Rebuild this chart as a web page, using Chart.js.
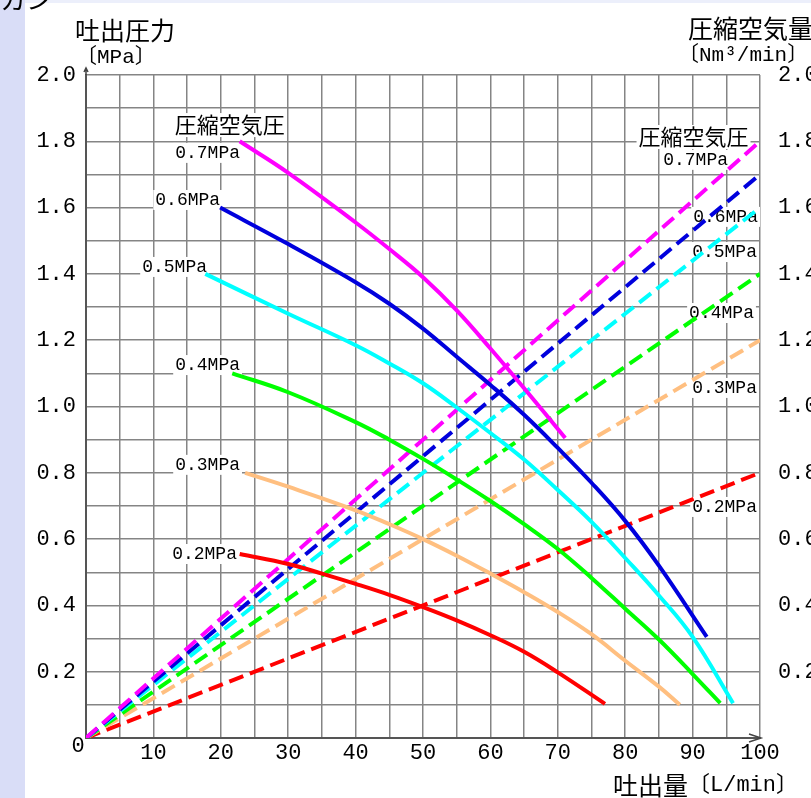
<!DOCTYPE html>
<html><head><meta charset="utf-8">
<script src="https://cdn.jsdelivr.net/npm/chart.js@4"></script>
<style>
html,body{margin:0;padding:0;background:#fff;}
#wrap{position:relative;width:811px;height:798px;overflow:hidden;}
#side{position:absolute;left:0;top:0;width:25px;height:798px;background:#d9ddf7;}
#topband{position:absolute;left:25px;top:0;width:786px;height:3px;background:#eceffb;}
canvas{position:absolute;left:0;top:0;}
</style></head><body>
<div id="wrap"><div id="side"></div><div id="topband"></div><canvas id="c" width="811" height="798"></canvas></div>
<script>
// ---- data ----
const pressures = ['0.7MPa','0.6MPa','0.5MPa','0.4MPa','0.3MPa','0.2MPa'];
const colors    = ['#ff00ff','#0000dd','#00ffff','#00ff00','#ffbf80','#ff0000'];

// discharge pressure [MPa] vs discharge flow [L/min] (left axis)
const flow07 = [22.8, 30, 40, 45, 50, 55, 60, 65, 71.1];
const pres07 = [1.80, 1.705, 1.555, 1.475, 1.39, 1.29, 1.175, 1.055, 0.905];
const flow06 = [19.9, 30, 40, 45, 50, 55, 60, 65, 70, 75, 80, 85, 92.1];
const pres06 = [1.60, 1.49, 1.375, 1.31, 1.235, 1.15, 1.065, 0.975, 0.875, 0.77, 0.655, 0.52, 0.305];
const flow05 = [17.7, 30, 40, 45, 50, 55, 60, 65, 70, 75, 80, 85, 90, 96];
const pres05 = [1.40, 1.28, 1.185, 1.13, 1.07, 0.997, 0.92, 0.84, 0.748, 0.652, 0.543, 0.43, 0.305, 0.105];
const flow04 = [21.7, 30, 40, 45, 50, 55, 60, 65, 70, 75, 80, 85, 90, 94.1];
const pres04 = [1.10, 1.043, 0.953, 0.90, 0.842, 0.78, 0.715, 0.645, 0.57, 0.483, 0.39, 0.297, 0.193, 0.105];
const flow03 = [23.6, 30, 40, 45, 50, 55, 60, 65, 70, 75, 80, 85, 88.1];
const pres03 = [0.80, 0.758, 0.687, 0.645, 0.60, 0.55, 0.496, 0.44, 0.38, 0.313, 0.233, 0.155, 0.10];
const flow02 = [22.8, 30, 35, 40, 45, 50, 55, 60, 65, 70, 77];
const pres02 = [0.555, 0.525, 0.496, 0.465, 0.432, 0.395, 0.355, 0.31, 0.26, 0.198, 0.103];

// compressed air consumption [Nm3/min] (right axis): straight lines from 0 to the value at 100 L/min
const airFlowEnds = [0, 100];
const airAt0   = [0, 0, 0, 0, 0, 0];
const airAt100 = [1.8, 1.7, 1.6, 1.4, 1.2, 0.8];

const flows = [flow07, flow06, flow05, flow04, flow03, flow02];
const press = [pres07, pres06, pres05, pres04, pres03, pres02];

// axis ranges / ticks
const xMin = 0, xMax = 100, xStep = 5, xLabelEvery = 10;
const yMin = 0, yMax = 2.0, yStep = 0.1;

// annotation texts (data coordinates, right aligned)
const leftHeading = '圧縮空気圧';
const rightHeading = '圧縮空気圧';
const leftLabelPos  = [[22.85,1.765],[19.9,1.623],[17.95,1.421],[22.85,1.125],[22.85,0.824],[22.4,0.555]];
const rightLabelPos = [[95.25,1.744],[99.7,1.572],[99.55,1.466],[99.1,1.282],[99.55,1.056],[99.55,0.697]];

// ---- chart ----
const MONO = "'Liberation Mono','Noto Sans CJK JP',monospace";
const CJK  = "'Noto Sans CJK JP','Liberation Mono',sans-serif";

const datasets = [];
pressures.forEach((p,i)=>{
  datasets.push({
    label: 'P ' + p,
    data: flows[i].map((f,k)=>({x:f, y:press[i][k]})),
    borderColor: colors[i], borderWidth: 4, pointRadius: 0,
    tension: 0.4, fill: false,
    yAxisID: 'y', order: 1, borderCapStyle: 'butt'
  });
});
pressures.forEach((p,i)=>{
  datasets.push({
    label: 'Q ' + p,
    data: [{x:airFlowEnds[0], y:airAt0[i]},{x:airFlowEnds[1], y:airAt100[i]}],
    borderColor: colors[i], borderWidth: 4, pointRadius: 0,
    borderDash: [15, 7], fill: false,
    yAxisID: 'y2', order: 2, borderCapStyle: 'butt'
  });
});

function yLabel(v){
  const k = Math.round(v*10);
  return (k>0 && k%2===0) ? (k/10).toFixed(1) : '';
}

const textPlugin = {
  id: 'texts',
  beforeDatasetsDraw(chart){
    const {ctx, scales:{x, y}} = chart;
    ctx.save();
    const drawLab = (txt, px, py, font, h) => {
      ctx.font = font;
      const w = ctx.measureText(txt).width;
      ctx.fillStyle = '#fff';
      ctx.fillRect(px - w - 2, py - h/2, w + 4, h);
      ctx.fillStyle = '#000';
      ctx.textAlign = 'right'; ctx.textBaseline = 'middle';
      ctx.fillText(txt, px, py);
    };
    drawLab(leftHeading, x.getPixelForValue(29.5), y.getPixelForValue(1.849), '22px ' + CJK, 24);
    drawLab(rightHeading, x.getPixelForValue(98.3), y.getPixelForValue(1.813), '22px ' + CJK, 24);
    pressures.forEach((p,i)=>{
      const [lx, ly] = leftLabelPos[i];
      drawLab(p, x.getPixelForValue(lx), y.getPixelForValue(ly), '18px ' + MONO, 20);
      const [rx, ry] = rightLabelPos[i];
      drawLab(p, x.getPixelForValue(rx), y.getPixelForValue(ry), '18px ' + MONO, 20);
    });
    ctx.restore();
  },
  afterDraw(chart){
    const {ctx, chartArea:a} = chart;
    ctx.save();
    ctx.fillStyle = '#000';
    ctx.textAlign = 'left';
    ctx.font = '26px ' + CJK;
    ctx.textBaseline = 'bottom';
    ctx.fillText('カン', 0, 12);
    ctx.textBaseline = 'middle';
    ctx.font = '25px ' + CJK;
    ctx.fillText('吐出圧力', 75, 30);
    ctx.font = '21px ' + MONO;
    ctx.fillText('〔MPa〕', 76, 57);
    ctx.font = '25px ' + CJK;
    ctx.fillText('圧縮空気量', 688, 28);
    ctx.font = '21px ' + MONO;
    ctx.fillText('〔Nm³/min〕', 678, 55);
    ctx.textAlign = 'right';
    const unit = '〔L/min〕';
    ctx.font = '22px ' + MONO;
    const uw = ctx.measureText(unit).width;
    ctx.fillText(unit, 798, 785);
    ctx.font = '25px ' + CJK;
    ctx.fillText('吐出量', 798 - uw, 785);
    ctx.textAlign = 'center';
    ctx.font = '22px ' + MONO;
    ctx.fillText('0', a.left - 8, a.bottom + 8);
    ctx.strokeStyle = '#444'; ctx.lineWidth = 1.5;
    ctx.beginPath();
    ctx.moveTo(a.left, a.top); ctx.lineTo(a.left, a.top - 7);
    ctx.moveTo(a.left - 2, a.top - 3); ctx.lineTo(a.left, a.top - 7); ctx.lineTo(a.left + 2, a.top - 3);
    ctx.moveTo(a.right - 11, a.bottom - 4); ctx.lineTo(a.right + 1, a.bottom); ctx.lineTo(a.right - 11, a.bottom + 4);
    ctx.stroke();
    ctx.restore();
  }
};

new Chart(document.getElementById('c'), {
  type: 'line',
  data: { datasets },
  plugins: [textPlugin],
  options: {
    responsive: false, animation: false, devicePixelRatio: 1,
    layout: { padding: { top: 75, left: 0, right: 0, bottom: 0 } },
    plugins: { legend: { display: false }, tooltip: { enabled: false } },
    scales: {
      x: {
        type: 'linear', min: xMin, max: xMax,
        ticks: { stepSize: xStep, autoSkip: false, maxRotation: 0, padding: 2,
          color: '#000', font: { family: MONO, size: 22 },
          callback: v => (v > 0 && Math.round(v) % xLabelEvery === 0) ? String(Math.round(v)) : '' },
        grid: { color: '#858585', lineWidth: 1.5, drawTicks: false },
        border: { color: '#555', width: 2 },
        afterFit: s => { s.height = 60; }
      },
      y: {
        type: 'linear', position: 'left', min: yMin, max: yMax,
        ticks: { stepSize: yStep, autoSkip: false, padding: 10,
          color: '#000', font: { family: MONO, size: 22 }, callback: yLabel },
        grid: { color: '#858585', lineWidth: 1.5, drawTicks: false },
        border: { color: '#555', width: 2 },
        afterFit: s => { s.width = 86; }
      },
      y2: {
        type: 'linear', position: 'right', min: yMin, max: yMax,
        ticks: { stepSize: yStep, autoSkip: false, padding: 18,
          color: '#000', font: { family: MONO, size: 22 }, callback: yLabel },
        grid: { drawOnChartArea: false, drawTicks: false },
        border: { display: false },
        afterFit: s => { s.width = 51; }
      }
    }
  }
});
</script>
</body></html>
